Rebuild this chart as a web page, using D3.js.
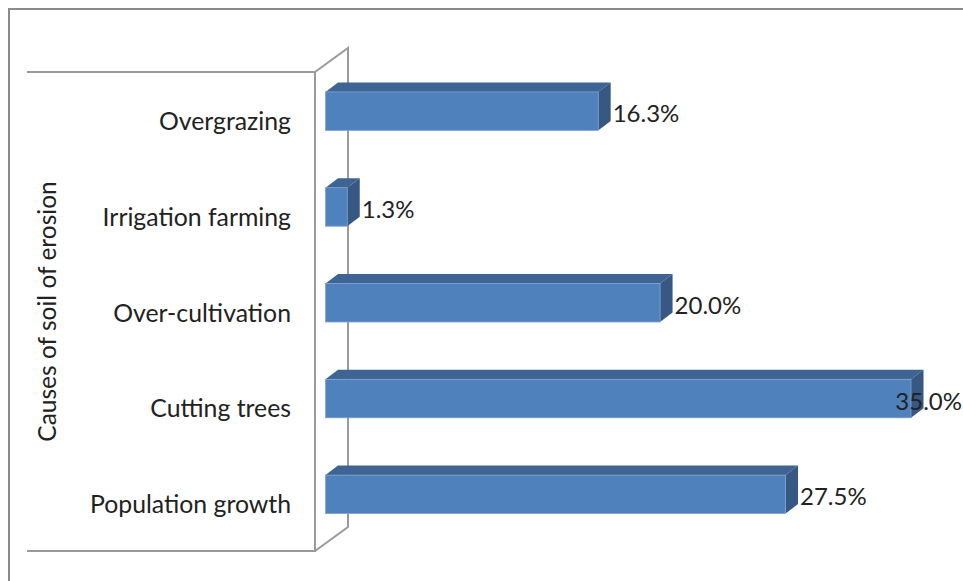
<!DOCTYPE html>
<html>
<head>
<meta charset="utf-8">
<script src="https://cdn.jsdelivr.net/npm/d3@7"></script>
<style>
  html, body { margin: 0; padding: 0; background: #fff; }
  svg { display: block; }
  text { font-family: Lato, "Open Sans", sans-serif; fill: #222; }
</style>
</head>
<body>
<svg id="chart" width="963" height="581"></svg>
<script>
// Causes of soil erosion, share of responses (%)
const categories = ["Overgrazing", "Irrigation farming", "Over-cultivation", "Cutting trees", "Population growth"];
const values = [16.3, 1.3, 20.0, 35.0, 27.5];
const axisTitle = "Causes of soil of erosion";

const svg = d3.select("#chart");
const W = 963, H = 581;

// outer chart frame (only its top and left edges fall inside the view)
svg.append("rect")
  .attr("x", 9).attr("y", 9)
  .attr("width", W + 20).attr("height", H + 20)
  .attr("fill", "none").attr("stroke", "#8a8a8a").attr("stroke-width", 2);

// plot geometry
const wall = { left: 27, front: 315, top: 72, bottom: 551, dx: 33, dy: -24 };
const barDepth = { dx: 12.5, dy: -9.5 };

const x = d3.scaleLinear().domain([0, 35]).range([325.5, 911]);
const y = d3.scaleBand().domain(categories).range([wall.top, wall.bottom]).padding(0);

// 3D side wall behind the category axis
const wallColor = "#9a9a9a";
const g = svg.append("g").attr("fill", "none").attr("stroke", wallColor).attr("stroke-width", 2);
g.append("path").attr("d", d3.line()([
  [wall.left, wall.top], [wall.front, wall.top], [wall.front, wall.bottom], [wall.left, wall.bottom]
]));
g.append("path").attr("d", d3.line()([
  [wall.front, wall.top], [wall.front + wall.dx, wall.top + wall.dy],
  [wall.front + wall.dx, wall.bottom + wall.dy], [wall.front, wall.bottom]
]));

// bars: front face, top face, right face
const barH = 38.5;
const bars = svg.append("g").selectAll("g").data(categories.map((c, i) => ({ c, v: values[i] })))
  .join("g");

const frontTop = d => y(d.c) + y.bandwidth() / 2 - 28;
const x0 = x(0);

bars.append("path") // top face
  .attr("fill", "#3d6492")
  .attr("d", d => {
    const t = frontTop(d), x1 = x(d.v);
    return d3.line()([[x0, t], [x0 + barDepth.dx, t + barDepth.dy], [x1 + barDepth.dx, t + barDepth.dy], [x1, t]]) + "Z";
  });
bars.append("path") // right face
  .attr("fill", "#365882")
  .attr("d", d => {
    const t = frontTop(d), x1 = x(d.v);
    return d3.line()([[x1, t], [x1 + barDepth.dx, t + barDepth.dy], [x1 + barDepth.dx, t + barH + barDepth.dy], [x1, t + barH]]) + "Z";
  });
bars.append("rect") // front face
  .attr("x", x0).attr("y", d => frontTop(d))
  .attr("width", d => x(d.v) - x0).attr("height", barH)
  .attr("fill", "#4f81bd")
  .attr("stroke", "#7ea2cf").attr("stroke-width", 0.8);

// value labels, kept inside the frame on the right
bars.append("text")
  .attr("font-size", 24)
  .attr("dominant-baseline", "central")
  .attr("y", d => frontTop(d) + barH / 2 + 1.5)
  .attr("x", d => x(d.v) + barDepth.dx + 2)
  .text(d => d.v.toFixed(1) + "%")
  .each(function () {
    const el = d3.select(this);
    const w = this.getComputedTextLength();
    const xs = +el.attr("x");
    if (xs + w > W - 1) el.attr("x", W - 1 - w);
  });

// category labels
svg.append("g").selectAll("text").data(categories).join("text")
  .attr("x", 291)
  .attr("y", d => y(d) + y.bandwidth() / 2 + 0.5)
  .attr("text-anchor", "end")
  .attr("dominant-baseline", "central")
  .attr("font-size", 24.8)
  .text(d => d);

// axis title
svg.append("text")
  .attr("transform", `translate(46, ${(wall.top + wall.bottom) / 2}) rotate(-90)`)
  .attr("text-anchor", "middle")
  .attr("dominant-baseline", "central")
  .attr("font-size", 24.5)
  .text(axisTitle);
</script>
</body>
</html>
